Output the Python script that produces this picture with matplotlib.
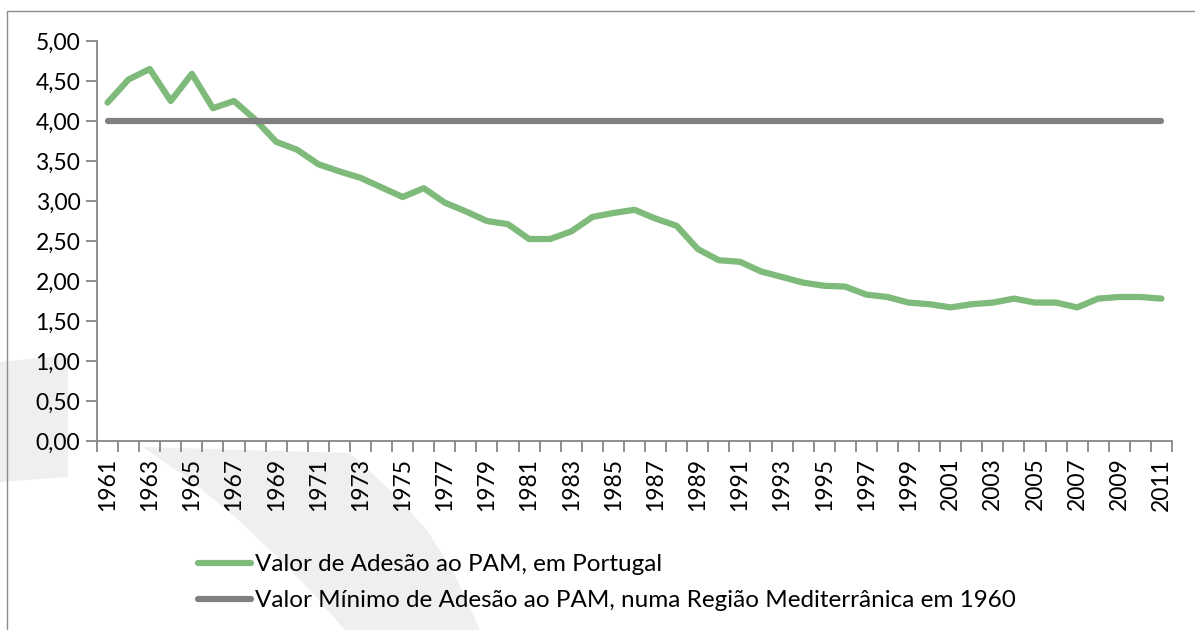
import matplotlib
matplotlib.use('Agg')
import matplotlib.pyplot as plt
from matplotlib.patches import Polygon, Rectangle
from matplotlib.ticker import FixedLocator, FuncFormatter

plt.rcParams['font.family'] = ['Lato', 'DejaVu Sans']

# dados
anos = list(range(1961, 2012))
adesao_portugal = [4.23, 4.52, 4.65, 4.25, 4.59, 4.16, 4.25, 4.02, 3.74, 3.64,
                   3.46, 3.37, 3.29, 3.17, 3.05, 3.16, 2.98, 2.87, 2.75, 2.71,
                   2.525, 2.525, 2.62, 2.80, 2.85, 2.89, 2.78, 2.69, 2.40, 2.26,
                   2.24, 2.12, 2.05, 1.98, 1.94, 1.93, 1.83, 1.80, 1.73, 1.71,
                   1.67, 1.71, 1.73, 1.78, 1.73, 1.73, 1.67, 1.78, 1.80, 1.80,
                   1.78]
minimo_1960 = [4.0] * len(anos)
nomes = ['Valor de Adesão ao PAM, em Portugal',
         'Valor Mínimo de Adesão ao PAM, numa Região Mediterrânica em 1960']

W, H = 1195, 630
fig = plt.figure(figsize=(W / 100, H / 100), dpi=100)


def px(x, y):
    return (x / W, 1 - y / H)


# marca de agua ao fundo
cinza_fundo = '#eef0ef'
peca_a = [px(0, 362), px(68, 355), px(68, 477), px(0, 482)]
peca_b = [px(143, 447), px(350, 453), px(390, 490), px(427, 530), px(455, 575),
          px(480, 630), px(345, 630), px(310, 590), px(270, 550), px(233, 515),
          px(190, 480)]
for p in (peca_a, peca_b):
    fig.patches.append(Polygon(p, closed=True, transform=fig.transFigure,
                               facecolor=cinza_fundo, edgecolor='none', zorder=-2))

# moldura
fig.patches.append(Rectangle(px(7, 640), (W + 20) / W, (640 - 11) / H,
                             transform=fig.transFigure, fill=False,
                             edgecolor='#8c8c8c', linewidth=1.0, zorder=-1))

ax = fig.add_axes([97 / W, 1 - 441 / H, (1172 - 97) / W, 400 / H])
ax.set_facecolor('none')

fs = 16.5
x = list(range(len(anos)))
ax.plot(x, adesao_portugal, color='#7eba7a', linewidth=4.5,
        solid_capstyle='round', solid_joinstyle='round', label=nomes[0])
ax.plot(x, minimo_1960, color='#808080', linewidth=4.5,
        solid_capstyle='round', label=nomes[1])

ax.set_xlim(-0.5, len(anos) - 0.5)
ax.set_ylim(0, 5)

for s in ('top', 'right'):
    ax.spines[s].set_visible(False)
for s in ('left', 'bottom'):
    ax.spines[s].set_color('#868686')
    ax.spines[s].set_linewidth(1.3)

ax.set_yticks([i * 0.5 for i in range(11)])
ax.yaxis.set_major_formatter(FuncFormatter(lambda v, p: f'{v:.2f}'.replace('.', ',')))
ax.tick_params(axis='y', length=8, width=1.3, color='#868686', labelsize=fs,
               pad=4, labelcolor='#000000')

ax.xaxis.set_major_locator(FixedLocator(x[::2]))
ax.set_xticklabels([str(a) for a in anos[::2]], rotation=90)
ax.xaxis.set_minor_locator(FixedLocator([i - 0.5 for i in range(len(anos) + 1)]))
ax.tick_params(axis='x', which='major', length=0, labelsize=fs, pad=12)
ax.tick_params(axis='x', which='minor', length=8, width=1.3, color='#868686')

leg = ax.legend(loc='upper left', bbox_to_anchor=px(198, 554),
                bbox_transform=fig.transFigure, frameon=False, fontsize=17.5,
                handlelength=2.2, handletextpad=0.15, labelspacing=0.62,
                borderpad=0, borderaxespad=0)

fig.savefig('out.png', dpi=100)
